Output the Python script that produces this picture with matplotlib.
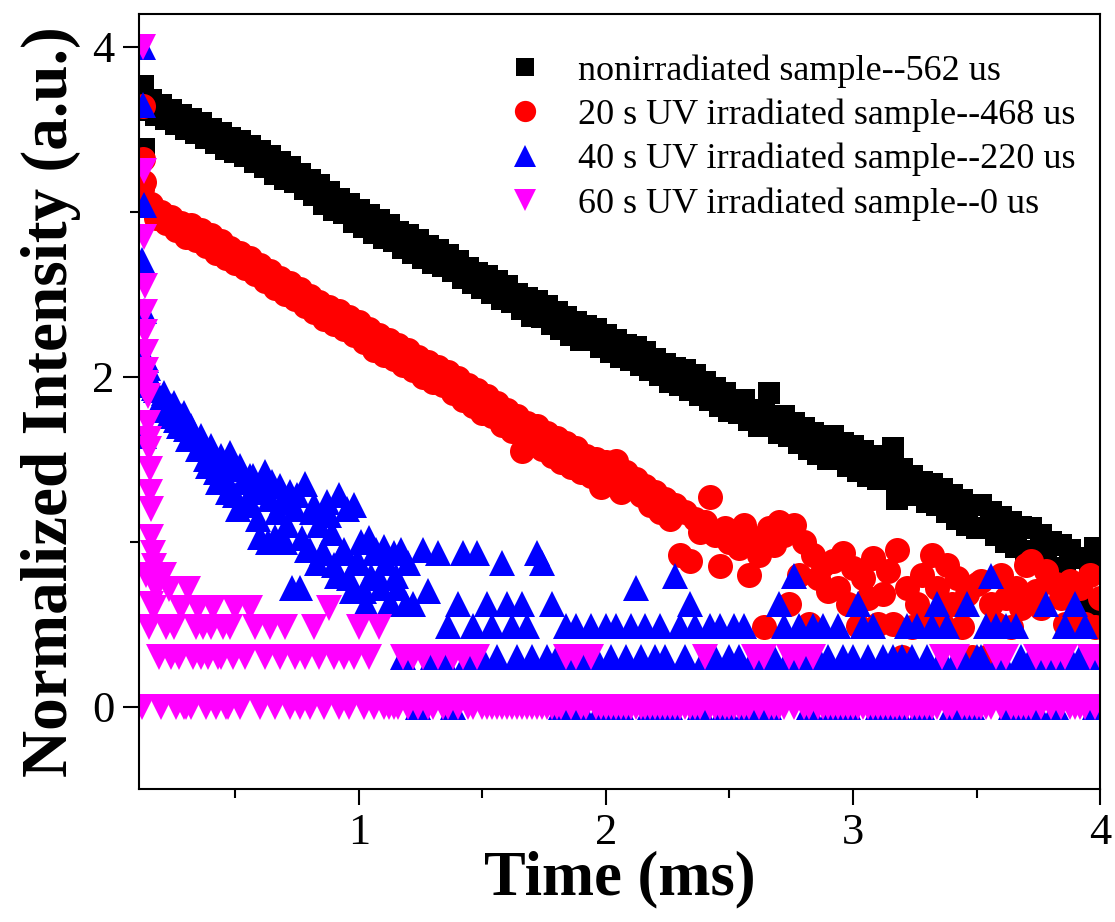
import numpy as np
import matplotlib
matplotlib.use("Agg")
import matplotlib.pyplot as plt
from matplotlib.ticker import MultipleLocator

# common sampling time (ms)
time_ms = [0.12, 0.14, 0.16, 0.18, 0.20, 0.22, 0.24, 0.26, 0.28, 0.30,
           0.32, 0.34, 0.36, 0.38, 0.40, 0.42, 0.44, 0.46, 0.48, 0.50,
           0.52, 0.54, 0.56, 0.58, 0.60, 0.62, 0.64, 0.66, 0.68, 0.70,
           0.72, 0.74, 0.76, 0.78, 0.80, 0.82, 0.84, 0.86, 0.88, 0.90,
           0.92, 0.94, 0.96, 0.98, 1.00, 1.02, 1.04, 1.06, 1.08, 1.10,
           1.12, 1.14, 1.16, 1.18, 1.20, 1.22, 1.24, 1.26, 1.28, 1.30,
           1.32, 1.34, 1.36, 1.38, 1.40, 1.42, 1.44, 1.46, 1.48, 1.50,
           1.52, 1.54, 1.56, 1.58, 1.60, 1.62, 1.64, 1.66, 1.68, 1.70,
           1.72, 1.74, 1.76, 1.78, 1.80, 1.82, 1.84, 1.86, 1.88, 1.90,
           1.92, 1.94, 1.96, 1.98, 2.00, 2.02, 2.04, 2.06, 2.08, 2.10,
           2.12, 2.14, 2.16, 2.18, 2.20, 2.22, 2.24, 2.26, 2.28, 2.30,
           2.32, 2.34, 2.36, 2.38, 2.40, 2.42, 2.44, 2.46, 2.48, 2.50,
           2.52, 2.54, 2.56, 2.58, 2.60, 2.62, 2.64, 2.66, 2.68, 2.70,
           2.72, 2.74, 2.76, 2.78, 2.80, 2.82, 2.84, 2.86, 2.88, 2.90,
           2.92, 2.94, 2.96, 2.98, 3.00, 3.02, 3.04, 3.06, 3.08, 3.10,
           3.12, 3.14, 3.16, 3.18, 3.20, 3.22, 3.24, 3.26, 3.28, 3.30,
           3.32, 3.34, 3.36, 3.38, 3.40, 3.42, 3.44, 3.46, 3.48, 3.50,
           3.52, 3.54, 3.56, 3.58, 3.60, 3.62, 3.64, 3.66, 3.68, 3.70,
           3.72, 3.74, 3.76, 3.78, 3.80, 3.82, 3.84, 3.86, 3.88, 3.90,
           3.92, 3.94, 3.96, 3.98, 4.00]

# nonirradiated
black_y = [3.71, 3.62, 3.68, 3.59, 3.65, 3.56, 3.62, 3.53, 3.59, 3.50,
           3.56, 3.48, 3.54, 3.45, 3.50, 3.42, 3.48, 3.38, 3.45, 3.36,
           3.43, 3.34, 3.40, 3.30, 3.37, 3.27, 3.34, 3.23, 3.30, 3.20,
           3.27, 3.18, 3.23, 3.14, 3.19, 3.10, 3.16, 3.05, 3.12, 3.01,
           3.08, 2.99, 3.05, 2.94, 3.01, 2.91, 2.98, 2.87, 2.95, 2.84,
           2.92, 2.82, 2.88, 2.78, 2.86, 2.75, 2.83, 2.72, 2.79, 2.69,
           2.77, 2.67, 2.74, 2.64, 2.70, 2.60, 2.66, 2.57, 2.63, 2.54,
           2.61, 2.51, 2.58, 2.47, 2.55, 2.45, 2.50, 2.41, 2.48, 2.37,
           2.46, 2.36, 2.43, 2.32, 2.39, 2.29, 2.36, 2.25, 2.33, 2.22,
           2.31, 2.22, 2.29, 2.18, 2.25, 2.15, 2.22, 2.12, 2.19, 2.10,
           2.18, 2.07, 2.15, 2.04, 2.11, 2.01, 2.08, 1.97, 2.05, 1.95,
           2.04, 1.92, 2.01, 1.89, 1.97, 1.86, 1.93, 1.82, 1.90, 1.79,
           1.85, 1.78, 1.86, 1.74, 1.80, 1.70, 1.77, 1.90, 1.72, 1.66,
           1.76, 1.64, 1.72, 1.60, 1.69, 1.56, 1.66, 1.53, 1.63, 1.50,
           1.64, 1.51, 1.60, 1.46, 1.58, 1.43, 1.55, 1.40, 1.52, 1.38,
           1.50, 1.38, 1.57, 1.26, 1.44, 1.33, 1.40, 1.28, 1.36, 1.24,
           1.35, 1.22, 1.32, 1.18, 1.28, 1.14, 1.25, 1.10, 1.22, 1.08,
           1.22, 1.08, 1.18, 1.04, 1.15, 1.00, 1.12, 0.97, 1.09, 0.94,
           1.08, 0.92, 1.04, 0.88, 1.00, 0.76, 0.98, 0.84, 0.95, 0.70,
           0.90, 0.62, 0.86, 0.96, 0.58]
black_extra_t = [0.125, 0.13, 0.13]
black_extra_y = [3.76, 3.66, 3.38]

# 20 s UV
red_y = [3.14, 3.04, 3.05, 2.96, 3.00, 2.93, 2.97, 2.89, 2.93, 2.85,
         2.92, 2.83, 2.89, 2.79, 2.86, 2.75, 2.82, 2.72, 2.78, 2.69,
         2.75, 2.66, 2.72, 2.62, 2.68, 2.58, 2.64, 2.54, 2.60, 2.50,
         2.57, 2.47, 2.53, 2.43, 2.49, 2.39, 2.45, 2.35, 2.42, 2.32,
         2.40, 2.29, 2.36, 2.25, 2.33, 2.21, 2.29, 2.16, 2.25, 2.13,
         2.22, 2.11, 2.19, 2.07, 2.16, 2.04, 2.12, 2.00, 2.09, 1.97,
         2.06, 1.95, 2.03, 1.90, 1.99, 1.86, 1.95, 1.82, 1.92, 1.78,
         1.88, 1.76, 1.84, 1.71, 1.80, 1.67, 1.76, 1.55, 1.72, 1.60,
         1.70, 1.56, 1.66, 1.52, 1.63, 1.48, 1.60, 1.45, 1.57, 1.42,
         1.52, 1.40, 1.50, 1.33, 1.48, 1.39, 1.49, 1.30, 1.42, 1.33,
         1.38, 1.28, 1.34, 1.22, 1.30, 1.18, 1.26, 1.14, 1.22, 0.92,
         1.18, 0.88, 1.14, 1.06, 1.12, 1.27, 1.04, 0.85, 1.08, 1.00,
         1.05, 0.96, 1.10, 0.80, 1.02, 0.92, 0.48, 1.08, 0.98, 1.12,
         1.04, 0.62, 1.10, 0.80, 1.00, 0.50, 0.92, 0.78, 0.86, 0.70,
         0.88, 0.72, 0.93, 0.62, 0.84, 0.49, 0.78, 0.66, 0.90, 0.50,
         0.68, 0.82, 0.50, 0.95, 0.30, 0.72, 0.48, 0.62, 0.80, 0.50,
         0.92, 0.72, 0.50, 0.86, 0.62, 0.78, 0.48, 0.68, 0.30, 0.74,
         0.76, 0.30, 0.62, 0.50, 0.80, 0.66, 0.48, 0.72, 0.60, 0.86,
         0.88, 0.70, 0.60, 0.82, 0.30, 0.74, 0.66, 0.50, 0.76, 0.49,
         0.72, 0.50, 0.80, 0.48, 0.66]
red_extra_t = [0.125, 0.125, 0.13, 0.135]
red_extra_y = [3.64, 3.32, 3.18, 3.05]

# 40 s UV
blue_y = [2.71, 2.10, 1.95, 1.92, 1.86, 1.80, 1.82, 1.74, 1.76, 1.68,
          1.70, 1.62, 1.64, 1.50, 1.58, 1.42, 1.52, 1.38, 1.54, 1.28,
          1.46, 1.22, 1.40, 1.30, 1.03, 1.42, 1.26, 1.03, 1.34, 1.00,
          1.30, 1.20, 0.72, 1.35, 0.95, 1.22, 1.10, 0.93, 1.16, 0.86,
          1.28, 0.95, 0.78, 1.22, 0.87, 0.70, 1.02, 0.93, 0.78, 0.97,
          0.62, 0.93, 0.72, 0.30, 0.87, 0.62, 0.00, 0.95, 0.70, 0.30,
          0.93, 0.30, 0.49, 0.00, 0.62, 0.93, 0.30, 0.49, 0.93, 0.30,
          0.62, 0.49, 0.30, 0.87, 0.62, 0.49, 0.30, 0.62, 0.49, 0.30,
          0.93, 0.87, 0.30, 0.62, 0.30, 0.00, 0.49, 0.30, 0.49, 0.00,
          0.30, 0.49, 0.30, 0.00, 0.49, 0.30, 0.49, 0.00, 0.30, 0.49,
          0.72, 0.30, 0.49, 0.00, 0.30, 0.49, 0.30, 0.00, 0.79, 0.49,
          0.30, 0.62, 0.49, 0.00, 0.30, 0.49, 0.30, 0.49, 0.00, 0.30,
          0.49, 0.30, 0.49, 0.00, 0.30, 0.00, 0.30, 0.00, 0.30, 0.62,
          0.49, 0.30, 0.79, 0.49, 0.30, 0.00, 0.49, 0.30, 0.49, 0.30,
          0.00, 0.49, 0.30, 0.00, 0.30, 0.62, 0.49, 0.30, 0.49, 0.00,
          0.30, 0.00, 0.30, 0.00, 0.30, 0.49, 0.30, 0.49, 0.00, 0.30,
          0.49, 0.62, 0.30, 0.49, 0.00, 0.30, 0.30, 0.62, 0.00, 0.30,
          0.30, 0.49, 0.79, 0.49, 0.30, 0.49, 0.00, 0.49, 0.30, 0.00,
          0.30, 0.00, 0.30, 0.62, 0.30, 0.00, 0.30, 0.49, 0.30, 0.62,
          0.30, 0.49, 0.30, 0.00, 0.30]
blue_extra_t = [0.125, 0.125, 0.13, 0.13, 0.135, 0.13, 0.145, 0.16, 0.17,
                0.21, 0.23, 0.25, 0.27, 0.29, 0.31, 0.33, 0.35, 0.37, 0.39,
                0.41, 0.43, 0.45, 0.47, 0.49, 0.51, 0.53, 0.55, 0.57, 0.59,
                0.61, 0.63, 0.65, 0.67, 0.69, 0.71, 0.73, 0.75, 0.77, 0.79,
                0.81, 0.83, 0.85, 0.87, 0.89, 0.91, 0.93, 0.95, 0.97, 0.99,
                1.01, 1.03, 1.05, 1.07, 1.09, 1.11, 1.13, 1.15, 1.17, 1.19]
blue_extra_y = [4.00, 3.65, 3.04, 2.40, 2.12, 1.64, 2.05, 1.98, 1.93,
                1.90, 1.76, 1.84, 1.70, 1.78, 1.62, 1.66, 1.56, 1.60, 1.46,
                1.52, 1.36, 1.48, 1.30, 1.44, 1.20, 1.36, 1.26, 1.40, 1.14,
                1.30, 1.00, 1.36, 1.18, 1.24, 1.10, 0.72, 1.28, 1.02, 0.95,
                1.18, 0.87, 0.93, 1.24, 1.05, 0.79, 0.93, 1.20, 0.70, 0.87,
                1.00, 0.62, 0.79, 0.95, 0.72, 0.87, 0.62, 0.79, 0.95, 0.62]

# 60 s UV
magenta_y = [0.00, 0.80, 0.62, 0.71, 0.00, 0.48, 0.30, 0.00, 0.60, 0.00,
             0.00, 0.48, 0.30, 0.00, 0.48, 0.00, 0.30, 0.00, 0.48, 0.60,
             0.00, 0.30, 0.60, 0.48, 0.00, 0.30, 0.48, 0.00, 0.30, 0.48,
             0.00, 0.30, 0.00, 0.30, 0.00, 0.48, 0.30, 0.00, 0.60, 0.30,
             0.00, 0.30, 0.00, 0.30, 0.48, 0.00, 0.30, 0.00, 0.48, 0.00,
             0.00, 0.00, 0.00, 0.30, 0.00, 0.30, 0.00, 0.30, 0.00, 0.00,
             0.30, 0.00, 0.00, 0.30, 0.00, 0.30, 0.00, 0.00, 0.30, 0.00,
             0.00, 0.00, 0.00, 0.00, 0.00, 0.00, 0.00, 0.00, 0.00, 0.00,
             0.00, 0.00, 0.00, 0.00, 0.00, 0.00, 0.30, 0.00, 0.30, 0.00,
             0.00, 0.30, 0.00, 0.00, 0.00, 0.00, 0.00, 0.00, 0.00, 0.00,
             0.00, 0.00, 0.00, 0.00, 0.00, 0.00, 0.00, 0.00, 0.00, 0.00,
             0.00, 0.00, 0.00, 0.00, 0.30, 0.00, 0.00, 0.00, 0.00, 0.00,
             0.00, 0.00, 0.00, 0.00, 0.30, 0.00, 0.30, 0.00, 0.00, 0.00,
             0.00, 0.30, 0.00, 0.30, 0.00, 0.00, 0.30, 0.00, 0.00, 0.00,
             0.00, 0.00, 0.00, 0.00, 0.00, 0.00, 0.00, 0.00, 0.00, 0.00,
             0.00, 0.00, 0.00, 0.00, 0.00, 0.00, 0.00, 0.00, 0.00, 0.00,
             0.00, 0.00, 0.30, 0.00, 0.00, 0.30, 0.00, 0.00, 0.00, 0.00,
             0.00, 0.00, 0.00, 0.30, 0.00, 0.30, 0.00, 0.00, 0.00, 0.00,
             0.00, 0.30, 0.00, 0.30, 0.00, 0.30, 0.00, 0.30, 0.00, 0.00,
             0.00, 0.00, 0.30, 0.00, 0.30]
magenta_extra_t = [0.125, 0.13, 0.13, 0.135, 0.135, 0.135, 0.14, 0.14, 0.14, 0.145,
                   0.145, 0.15, 0.15, 0.155, 0.155, 0.16, 0.16, 0.165, 0.17, 0.175,
                   0.15, 0.17, 0.19, 0.21, 0.23, 0.25, 0.27, 0.29, 0.31, 0.33,
                   0.35, 0.37, 0.39, 0.41, 0.43, 0.45, 0.47, 0.49]
magenta_extra_y = [4.00, 3.25, 2.85, 2.55, 2.39, 2.27, 2.15, 2.04, 1.96, 1.88,
                   1.72, 1.62, 1.56, 1.44, 1.30, 1.20, 1.03, 0.93, 0.85, 0.75,
                   0.48, 0.60, 0.30, 0.80, 0.71, 0.48, 0.30, 0.00, 0.71, 0.30,
                   0.60, 0.48, 0.30, 0.60, 0.30, 0.48, 0.00, 0.30]

labels = ["nonirradiated sample--562 us",
          "20 s UV irradiated sample--468 us",
          "40 s UV irradiated sample--220 us",
          "60 s UV irradiated sample--0 us"]

plt.rcParams['font.family'] = 'Liberation Serif'

fig = plt.figure(figsize=(11.15, 9.22), dpi=100)
ax = fig.add_axes([0.1247, 0.1443, 0.8619, 0.8406])

series = [
    (black_extra_t, black_extra_y, black_y, 's', 16, 'black'),
    (red_extra_t, red_extra_y, red_y, 'o', 18, 'red'),
    (blue_extra_t, blue_extra_y, blue_y, '^', 19, 'blue'),
    (magenta_extra_t, magenta_extra_y, magenta_y, 'v', 19, 'magenta'),
]
for (et, ey, yy, mk, ms, col), lab in zip(series, labels):
    x = np.concatenate([et, time_ms])
    y = np.concatenate([ey, yy])
    ax.plot(x, y, ls='none', marker=mk, ms=ms, color=col, mec=col, mew=0, label=lab)

ax.set_xlim(0.11, 4.0)
ax.set_ylim(-0.5, 4.2)
ax.set_xticks([1, 2, 3, 4])
ax.xaxis.set_minor_locator(MultipleLocator(0.5))
ax.set_yticks([0, 2, 4])
ax.yaxis.set_minor_locator(MultipleLocator(1))
ax.tick_params(which='major', direction='out', length=11.5, width=1.5, labelsize=32, pad=6)
ax.tick_params(which='minor', direction='out', length=6.5, width=1.5)
for sp in ax.spines.values():
    sp.set_linewidth(1.5)

ax.set_xlabel('Time (ms)', fontsize=45, fontweight='bold', labelpad=-2)
ax.set_ylabel('Normalized Intensity (a.u.)', fontsize=47, fontweight='bold', labelpad=8)

ax.legend(loc='upper left', bbox_to_anchor=(0.383, 0.948), frameon=False, fontsize=26,
          handlelength=1.0, handletextpad=0.95, labelspacing=0.3, borderaxespad=0,
          borderpad=0, markerscale=0.85)

fig.savefig('out.png', dpi=100)
